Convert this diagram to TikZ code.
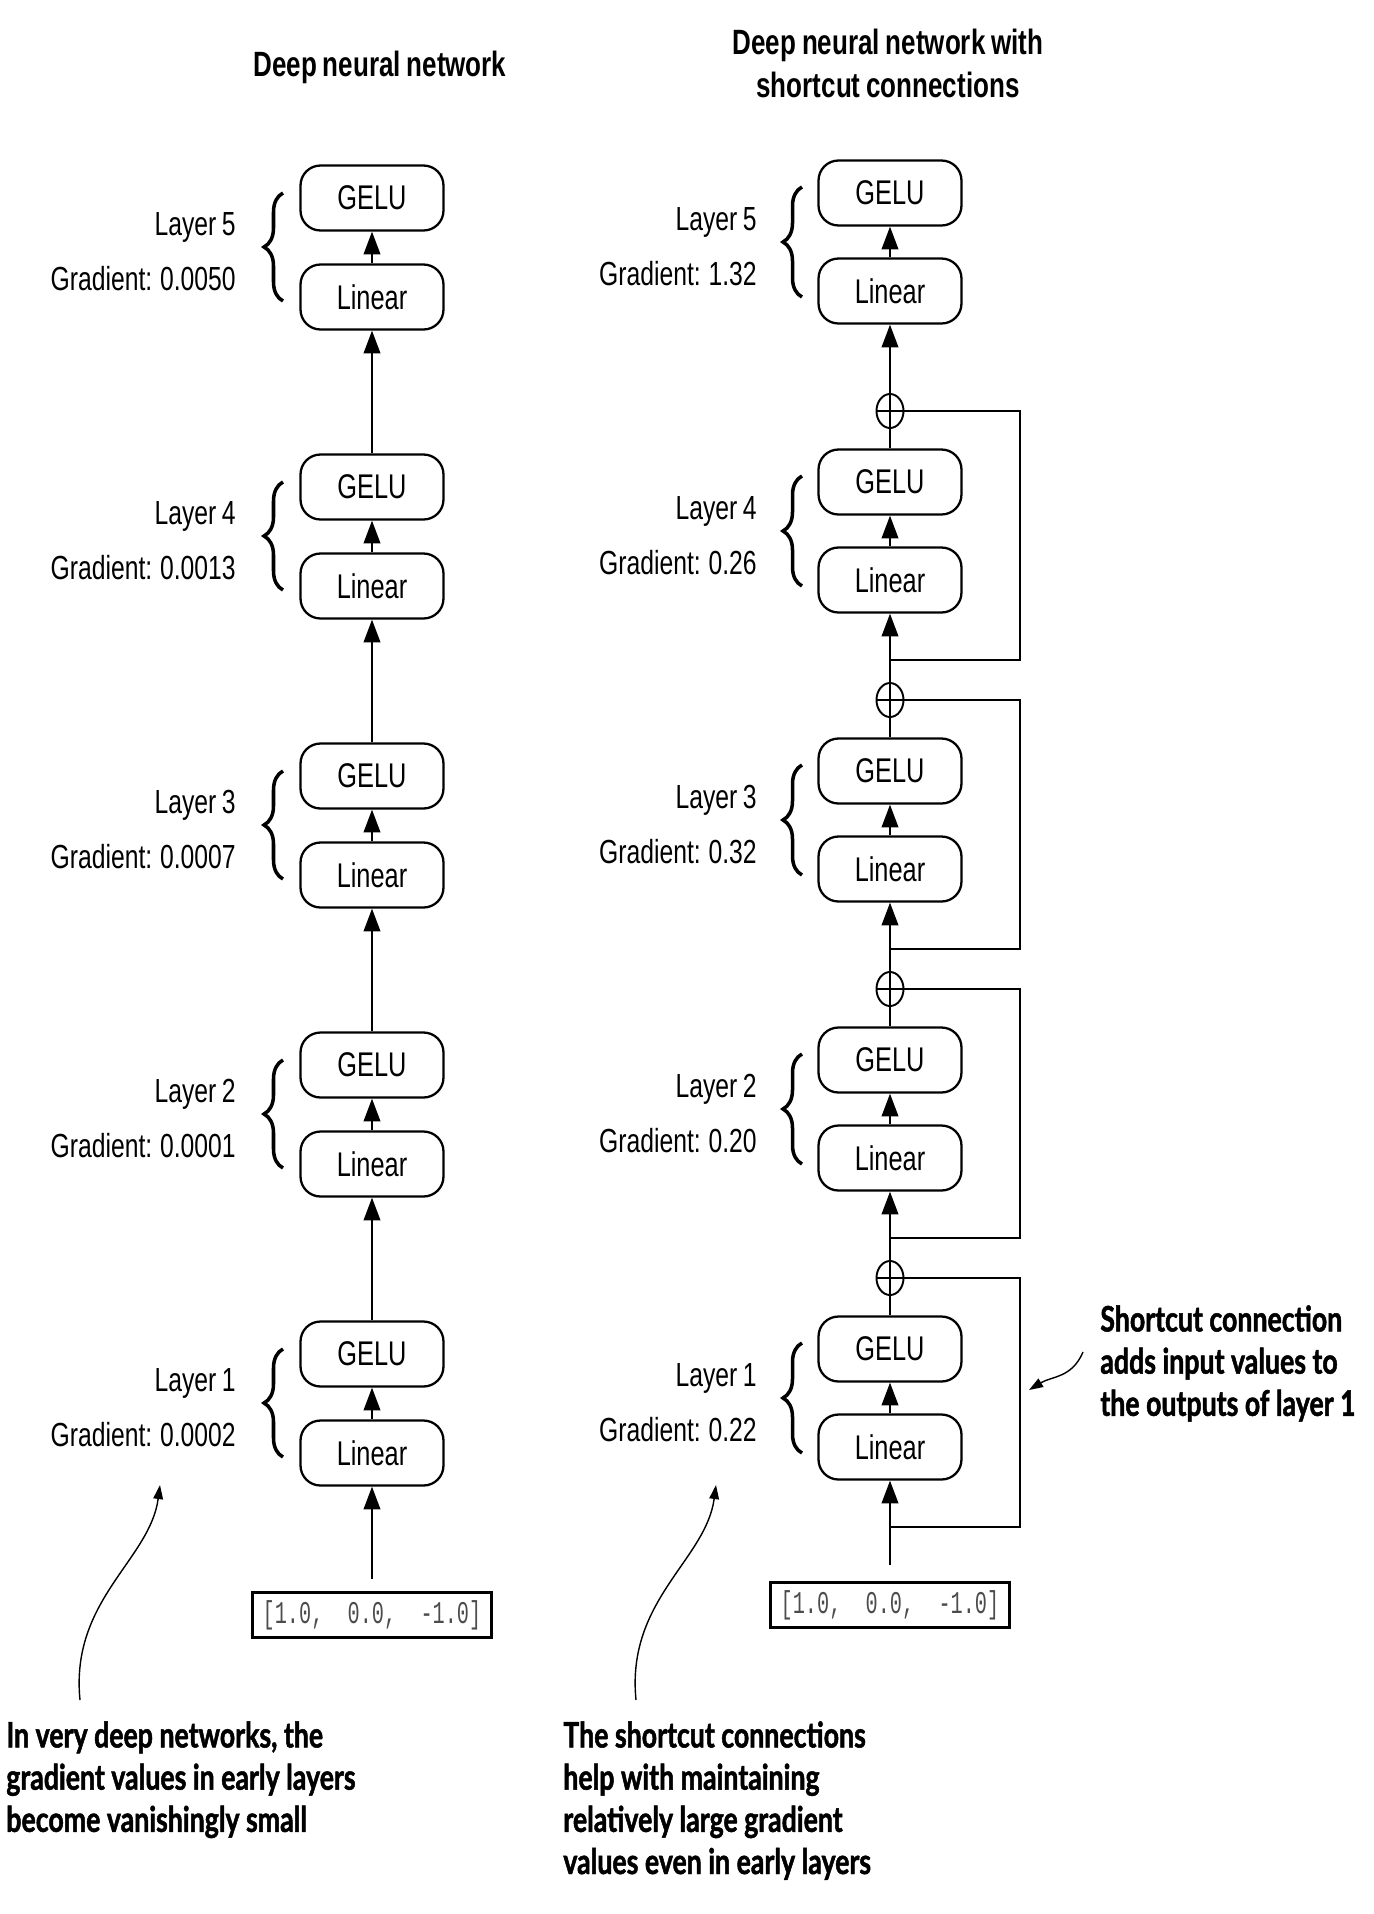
\documentclass[tikz,border=0pt]{standalone}
\usepackage{fontspec}
\setmainfont{Liberation Sans}[FakeStretch=0.74, WordSpace=0.8]
\setmonofont{Liberation Mono}[FakeStretch=0.64]
\newfontfamily\notefont{Lato}[FakeStretch=0.76, BoldFeatures={FakeBold=1.4}]
\usetikzlibrary{arrows.meta,shapes.geometric,decorations.pathreplacing}

\begin{document}
\begin{tikzpicture}[x=0.02cm, y=-0.02cm,
    block/.style={draw, rounded corners=0.4cm, minimum width=2.86cm, minimum height=1.3cm, line width=1.3pt, font=\fontsize{19.5}{22}\selectfont},
    adder/.style={draw, ellipse, minimum width=0.54cm, minimum height=0.68cm, inner sep=0pt, line width=1.1pt,
        path picture={\draw[line width=1.6pt] (path picture bounding box.north) -- (path picture bounding box.south)
            (path picture bounding box.west) -- (path picture bounding box.east);}},
    inbox/.style={draw, line width=1.8pt, minimum width=4.77cm, minimum height=0.9cm, text=black!70, font=\ttfamily\fontsize{18}{20}\selectfont},
    label/.style={anchor=base east, inner sep=0pt, font=\fontsize{19}{22}\selectfont},
    title/.style={inner sep=0pt, align=center, font=\bfseries\fontsize{20}{24.4}\selectfont},
    note/.style={anchor=north west, inner sep=0pt, align=left, font=\notefont\bfseries\fontsize{20}{24}\selectfont},
    flow/.style={-{Triangle[length=13pt,width=9.5pt]}, line width=1.1pt},
    wire/.style={line width=1.1pt},
    curly/.style={decorate, decoration={brace, amplitude=0.38cm}, line width=2pt},
    pointer/.style={-{Triangle[length=8pt,width=5.5pt]}, line width=0.8pt}]
    \useasboundingbox (0,0) rectangle (1373,1914);

    % titles
    \node[title, anchor=base] (titleL) at (380,76) {Deep neural network};
    \node[title, anchor=north] (titleR) at (888,29) {Deep neural network with\\shortcut connections};

    % plain network
    \node[block] (g5L) at (372,198)  {GELU};
    \node[block] (l5L) at (372,297)  {Linear};
    \node[block] (g4L) at (372,487)  {GELU};
    \node[block] (l4L) at (372,586)  {Linear};
    \node[block] (g3L) at (372,776)  {GELU};
    \node[block] (l3L) at (372,875)  {Linear};
    \node[block] (g2L) at (372,1065) {GELU};
    \node[block] (l2L) at (372,1164) {Linear};
    \node[block] (g1L) at (372,1354) {GELU};
    \node[block] (l1L) at (372,1453) {Linear};
    \node[inbox] (inL) at (372,1615) {[1.0,~~0.0,~~-1.0]};

    \node[label] (n5L) at (236,235)  {Layer 5};
    \node[label] (d5L) at (236,290)  {Gradient: 0.0050};
    \node[label] (n4L) at (236,524)  {Layer 4};
    \node[label] (d4L) at (236,579)  {Gradient: 0.0013};
    \node[label] (n3L) at (236,813)  {Layer 3};
    \node[label] (d3L) at (236,868)  {Gradient: 0.0007};
    \node[label] (n2L) at (236,1102) {Layer 2};
    \node[label] (d2L) at (236,1157) {Gradient: 0.0001};
    \node[label] (n1L) at (236,1391) {Layer 1};
    \node[label] (d1L) at (236,1446) {Gradient: 0.0002};

    \draw[curly] (283,301) -- (283,193);
    \draw[curly] (283,590) -- (283,482);
    \draw[curly] (283,879) -- (283,771);
    \draw[curly] (283,1168) -- (283,1060);
    \draw[curly] (283,1457) -- (283,1349);

    \draw[flow]
        (l5L) edge (g5L)
        (g4L) edge (l5L)
        (l4L) edge (g4L)
        (g3L) edge (l4L)
        (l3L) edge (g3L)
        (g2L) edge (l3L)
        (l2L) edge (g2L)
        (g1L) edge (l2L)
        (l1L) edge (g1L)
        (inL) edge[shorten <=0.24cm] (l1L)
    ;

    % network with shortcuts
    \node[block] (g5R) at (890,193)  {GELU};
    \node[block] (l5R) at (890,291)  {Linear};
    \node[block] (g4R) at (890,482)  {GELU};
    \node[block] (l4R) at (890,580)  {Linear};
    \node[block] (g3R) at (890,771)  {GELU};
    \node[block] (l3R) at (890,869)  {Linear};
    \node[block] (g2R) at (890,1060) {GELU};
    \node[block] (l2R) at (890,1158) {Linear};
    \node[block] (g1R) at (890,1349) {GELU};
    \node[block] (l1R) at (890,1447) {Linear};
    \node[inbox] (inR) at (890,1605) {[1.0,~~0.0,~~-1.0]};

    \node[adder] (p4R) at (890,411)  {};
    \node[adder] (p3R) at (890,700)  {};
    \node[adder] (p2R) at (890,989)  {};
    \node[adder] (p1R) at (890,1278) {};

    \coordinate (b4R) at (890,660);
    \coordinate (b3R) at (890,949);
    \coordinate (b2R) at (890,1238);
    \coordinate (b1R) at (890,1527);
    \coordinate (s4R) at (1020,660);
    \coordinate (s3R) at (1020,949);
    \coordinate (s2R) at (1020,1238);
    \coordinate (s1R) at (1020,1527);

    \node[label] (n5R) at (757,230)  {Layer 5};
    \node[label] (d5R) at (757,285)  {Gradient: 1.32};
    \node[label] (n4R) at (757,519)  {Layer 4};
    \node[label] (d4R) at (757,574)  {Gradient: 0.26};
    \node[label] (n3R) at (757,808)  {Layer 3};
    \node[label] (d3R) at (757,863)  {Gradient: 0.32};
    \node[label] (n2R) at (757,1097) {Layer 2};
    \node[label] (d2R) at (757,1152) {Gradient: 0.20};
    \node[label] (n1R) at (757,1386) {Layer 1};
    \node[label] (d1R) at (757,1441) {Gradient: 0.22};

    \draw[curly] (802,297) -- (802,187);
    \draw[curly] (802,586) -- (802,476);
    \draw[curly] (802,875) -- (802,765);
    \draw[curly] (802,1164) -- (802,1054);
    \draw[curly] (802,1453) -- (802,1343);

    \draw[flow]
        (l5R) edge (g5R)
        (p4R) edge (l5R)
        (l4R) edge (g4R)
        (p3R) edge (l4R)
        (l3R) edge (g3R)
        (p2R) edge (l3R)
        (l2R) edge (g2R)
        (p1R) edge (l2R)
        (l1R) edge (g1R)
        (inR) edge[shorten <=0.31cm] (l1R)
    ;
    \draw[wire]
        (g4R) -- (p4R)
        (g3R) -- (p3R)
        (g2R) -- (p2R)
        (g1R) -- (p1R)
        (b4R) -- (s4R) |- (p4R)
        (b3R) -- (s3R) |- (p3R)
        (b2R) -- (s2R) |- (p2R)
        (b1R) -- (s1R) |- (p1R)
    ;

    % annotations
    \node[note] (noteL) at (6,1721) {In very deep networks, the\\gradient values in early layers\\become vanishingly small};
    \node[note] (noteR) at (563,1721) {The shortcut connections\\help with maintaining\\relatively large gradient\\values even in early layers};
    \node[note] (noteS) at (1100,1305) {Shortcut connection\\adds input values to\\the outputs of layer 1};

    \coordinate (tailL) at (80,1700);
    \coordinate (tipL) at (160,1485);
    \coordinate (tailR) at (636,1700);
    \coordinate (tipR) at (716,1485);
    \coordinate (tailS) at (1083,1352);
    \coordinate (tipS) at (1029,1390);
    \draw[pointer] (tailL) .. controls (70,1600) and (150,1560) .. (tipL);
    \draw[pointer] (tailR) .. controls (626,1600) and (706,1560) .. (tipR);
    \draw[pointer] (tailS) .. controls (1072,1378) and (1052,1376) .. (tipS);
\end{tikzpicture}
\end{document}
